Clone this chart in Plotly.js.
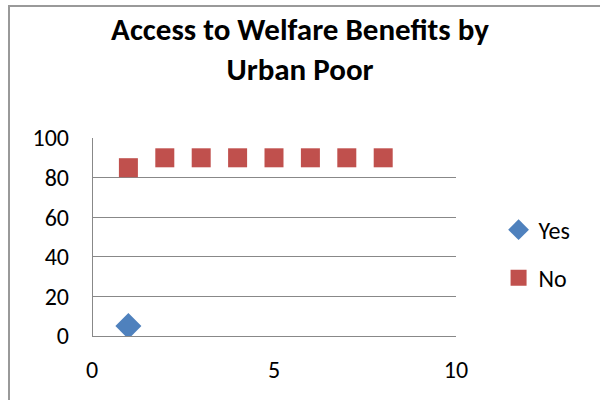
<!DOCTYPE html>
<html><head><meta charset="utf-8">
<script src="https://cdn.plot.ly/plotly-3.0.1.min.js"></script>
<style>html,body{margin:0;padding:0;background:#fff}
#wrap{position:relative;width:600px;height:400px;overflow:hidden}
#frame{position:absolute;left:8px;top:5px;width:620px;height:420px;border-left:2px solid #999;border-top:2px solid #999;pointer-events:none}
</style>
</head><body>
<div id="wrap"><div id="chart" style="width:600px;height:400px"></div><div id="frame"></div></div>
<script>
const yesX = [1];
const yesY = [5];
const noX = [1, 2, 3, 4, 5, 6, 7, 8];
const noY = [85, 90, 90, 90, 90, 90, 90, 90];
const xTicks = [0, 5, 10];
const yTicks = [0, 20, 40, 60, 80, 100];

const font = "Carlito, 'Open Sans', 'Liberation Sans', sans-serif";
const data = [
  {x: yesX, y: yesY, name: 'Yes', type: 'scatter', mode: 'markers', legendgroup: 'a',
   marker: {symbol: 'diamond', size: 20, color: '#4F81BD'}},
  {x: noX, y: noY, name: 'No', type: 'scatter', mode: 'markers', legendgroup: 'b',
   marker: {symbol: 'square', size: 19, color: '#C0504D'}}
];
const L = 69, R = 144;
const layout = {
  width: 600, height: 400,
  margin: {l: L, r: R, t: 138, b: 64},
  paper_bgcolor: '#fff', plot_bgcolor: '#fff',
  font: {family: font, size: 24, color: '#000'},
  title: {text: '<b>Access to Welfare Benefits by<br>Urban Poor</b>', x: 0.5, xref: 'container', xanchor: 'center',
          y: 0.9, yanchor: 'top', font: {family: font, size: 31, color: '#000'}},
  xaxis: {range: [0, 10], tickvals: xTicks, domain: [(92 - L) / (600 - L - R), 1],
          showgrid: false, zeroline: true, zerolinecolor: '#888', zerolinewidth: 1,
          showline: true, linecolor: '#888', linewidth: 1, ticks: '', ticklen: 0,
          ticklabelstandoff: 12, tickfont: {size: 24}, fixedrange: true},
  yaxis: {range: [0, 100], tickvals: yTicks, anchor: 'free', position: 0,
          showgrid: true, gridcolor: '#888', gridwidth: 1,
          zeroline: false, showline: false, ticks: '',
          tickfont: {size: 24}, fixedrange: true},
  showlegend: true,
  legend: {x: 1.11, xanchor: 'left', y: 0.414, yanchor: 'middle', tracegroupgap: 14,
           font: {size: 24}, itemwidth: 30, bgcolor: 'rgba(0,0,0,0)'}
};
Plotly.newPlot('chart', data, layout, {displayModeBar: false, staticPlot: true});
</script>
</body></html>
